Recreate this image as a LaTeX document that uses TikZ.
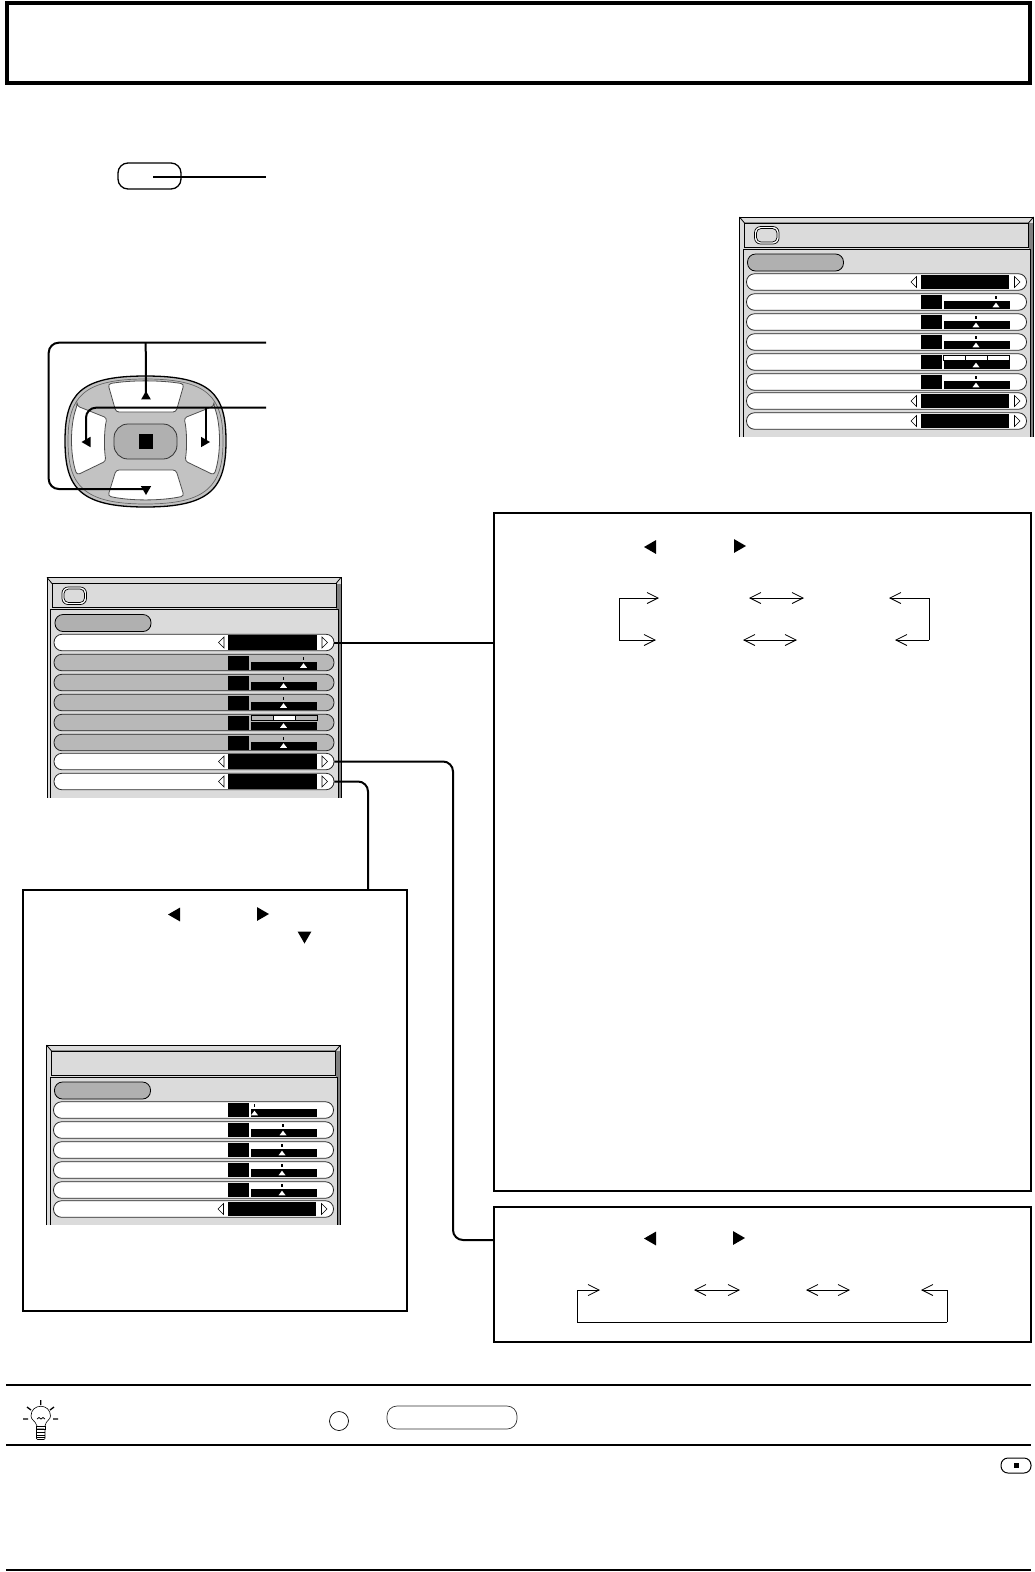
\documentclass[tikz,border=0pt]{standalone}
\usetikzlibrary{arrows.meta,shapes.geometric}

\definecolor{panelgray}{gray}{0.86}
\definecolor{rowgray}{gray}{0.72}
\definecolor{pillgray}{gray}{0.69}
\definecolor{padgray}{gray}{0.76}

% menu window, #1 is its height
\newcommand{\menuframe}[1]{
  \fill[panelgray] (0,0) rectangle (294,#1);
  \fill[black!50] (289,6) rectangle (294,32);
  \fill[black!50] (291,32) rectangle (294,#1);
  \draw[line width=.8pt] (0,#1) -- (0,0) -- (294,0) -- (294,#1);
  \draw[line width=.8pt] (3.5,#1) -- (3.5,32) -- (291,32) -- (291,#1);
  \draw[line width=.8pt] (0,0) -- (5,6) -- (289,6) -- (294,0);
  \draw[line width=.8pt, fill=panelgray] (5,6) rectangle (289,30);
  \draw[line width=1pt] (5,30) -- (289,30);
  \draw[line width=.8pt, fill=pillgray, rounded corners=8pt] (8,37) rectangle (104,54);
}
% title icon
\newcommand{\menuicon}{
  \draw[line width=.7pt, fill=white, rounded corners=6pt] (15,9.5) rectangle (39.5,27);
  \draw[line width=.7pt, fill=panelgray, rounded corners=4.5pt] (17,11.5) rectangle (37.5,25);
}
% row with a value: name, y
\newcommand{\valuerow}[2]{
  \node (#1) [menurow, fill=white] at (147,#2) {};
  \fill (181,#2-7.5) rectangle (269.5,#2+7);
  \draw[line width=.6pt] (177,#2-5.5) -- (171.5,#2) -- (177,#2+5.5) -- cycle;
  \draw[line width=.6pt] (275,#2-5.5) -- (280.5,#2) -- (275,#2+5.5) -- cycle;
}
% row with a slider: name, y, fill, mark x
\newcommand{\sliderow}[4]{
  \node (#1) [menurow, fill=#3] at (147,#2) {};
  \fill (181,#2-7) rectangle (202,#2+7);
  \fill (204,#2-.7) rectangle (270,#2+7);
  \fill (#4-.8,#2-6) rectangle (#4+.8,#2-3);
  \fill[white] (#4-3.5,#2+5.3) -- (#4,#2+.7) -- (#4+3.5,#2+5.3) -- cycle;
}
% three cells over a slider: y, outer fill, middle fill
\newcommand{\cellbar}[3]{
  \fill[#2] (204,#1-7) rectangle (270,#1-2);
  \fill[#3] (226,#1-7) rectangle (248,#1-2);
  \draw[line width=.7pt] (204,#1-7) rectangle (270,#1-2);
  \draw[line width=.7pt] (226,#1-7) -- (226,#1-2) (248,#1-7) -- (248,#1-2);
}

\begin{document}
\begin{tikzpicture}[
    x=1pt, y=-1pt,
    framebox/.style={rectangle, draw=black, line width=2pt, inner sep=0pt},
    menurow/.style={rectangle, draw=black!85, line width=.8pt, rounded corners=8pt, minimum width=280pt, minimum height=16.5pt, inner sep=0pt},
    wedge/.style={regular polygon, regular polygon sides=3, fill=black, inner sep=0pt, minimum size=#1},
    leader/.style={line width=2pt, rounded corners=10pt},
    flow/.style={line width=.8pt, >={Straight Barb[length=11pt,width=11pt]}}
]
\useasboundingbox (0,0) rectangle (1034,1572);

% Page heading
\node (heading) [framebox, line width=4pt, minimum width=1023pt, minimum height=80pt] at (518.5,42.5) {};

% Menu button
\node (menubutton) [rectangle, draw=black, line width=1.3pt, rounded corners=10pt, minimum width=63pt, minimum height=26pt, inner sep=0pt] at (149.5,176) {};
\coordinate (menuin) at (153,177);
\coordinate (menuout) at (266,177);
\draw [line width=1.8pt] (menuin) -- (menuout);

% Upper menu
\begin{scope}[shift={(739.5,217)}]
\menuframe{220}
\menuicon
\valuerow{upone}{65}
\sliderow{uptwo}{85}{white}{256.5}
\sliderow{upthree}{105}{white}{236.5}
\sliderow{upfour}{125}{white}{236.5}
\sliderow{upfive}{145}{white}{236.5}
\cellbar{145}{white}{white}
\sliderow{upsix}{165}{white}{236.5}
\valuerow{upseven}{184}
\valuerow{upeight}{204}
\end{scope}

% Control pad
\draw[line width=1.3pt, fill=padgray] (65,441) .. controls (65,394) and (80,376) .. (145.5,376) .. controls (211,376) and (226,394) .. (226,441) .. controls (226,488) and (211,507) .. (145.5,507) .. controls (80,507) and (65,488) .. (65,441) -- cycle;
\draw[line width=.7pt, black!60] (68,441) .. controls (68,397) and (83,379) .. (145.5,379) .. controls (208,379) and (223,397) .. (223,441) .. controls (223,485) and (208,504) .. (145.5,504) .. controls (83,504) and (68,485) .. (68,441) -- cycle;
\draw[line width=.8pt, draw=black!70, fill=white, rounded corners=3pt] (108,384) .. controls (130,380) and (161,380) .. (184,384) -- (176,412) -- (116,412) -- cycle;
\draw[line width=.8pt, draw=black!70, fill=white, rounded corners=3pt] (116,470) -- (176,470) -- (184,496) .. controls (161,501) and (130,501) .. (108,496) -- cycle;
\draw[line width=.8pt, draw=black!70, fill=white, rounded corners=3pt] (77,406) -- (107,418) .. controls (104,430) and (104,450) .. (106,461) -- (77,475) .. controls (70,455) and (70,425) .. (77,406) -- cycle;
\draw[line width=.8pt, draw=black!70, fill=white, rounded corners=3pt] (214,406) -- (184,418) .. controls (187,430) and (187,450) .. (185,461) -- (214,475) .. controls (221,455) and (221,425) .. (214,406) -- cycle;
\node (padstop) [rectangle, draw=black!80, line width=.8pt, fill=pillgray, rounded corners=14pt, minimum width=63pt, minimum height=35pt, inner sep=0pt] at (145.5,441.5) {};
\node (stopmark) [rectangle, fill=black, minimum width=14pt, minimum height=15pt, inner sep=0pt] at (146,441.5) {};

\node (padup) [wedge=11pt, regular polygon rotate=0] at (146,396.5) {};
\node (paddown) [wedge=12pt, regular polygon rotate=180] at (146,489) {};
\node (padleft) [wedge=12pt, regular polygon rotate=90] at (87.5,442) {};
\node (padright) [wedge=12pt, regular polygon rotate=-90] at (204,442) {};

\coordinate (updownout) at (266,342.7);
\coordinate (updownbend) at (48.7,342.7);
\coordinate (updownfork) at (145.7,342.7);
\coordinate (sideout) at (266,407.7);
\coordinate (sidebend) at (86,407.7);
\coordinate (sidefork) at (206,407.7);

\draw [leader] (updownout) -- (updownbend) |- (paddown.center);
\draw [line width=2pt] (updownfork) -- (padup.center);
\draw [leader] (sideout) -- (sidebend) -- (padleft.center -| sidebend);
\draw [line width=2pt] (sidefork) -- (sidefork |- padright.center);

% Lower menu
\begin{scope}[shift={(47,577.5)}]
\menuframe{220}
\menuicon
\valuerow{lowone}{65}
\sliderow{lowtwo}{85}{rowgray}{256.5}
\sliderow{lowthree}{105}{rowgray}{236.5}
\sliderow{lowfour}{125}{rowgray}{236.5}
\sliderow{lowfive}{145}{rowgray}{236.5}
\cellbar{145}{rowgray}{white}
\sliderow{lowsix}{165}{rowgray}{236.5}
\valuerow{lowseven}{184}
\valuerow{loweight}{204}
\end{scope}

% Boxes
\node (signalbox) [framebox, minimum width=537pt, minimum height=678pt] at (762.5,851.5) {};
\node (zonebox) [framebox, minimum width=537pt, minimum height=135pt] at (762.5,1274.5) {};
\node (advancedbox) [framebox, minimum width=384pt, minimum height=421pt] at (215,1100.5) {};

% Arrows
\coordinate (zonebend) at (453,1240);
\coordinate (zonejoin) at (493,1240);
\coordinate (advancedjoin) at (368,889);
\draw [line width=2pt] (lowone.east) -- (lowone.east -| signalbox.west);
\draw [leader] (lowseven.east) -| (zonebend) -- (zonejoin);
\draw [leader] (loweight.east) -| (advancedjoin);

% Marks in the boxes
\node (signalprev) [wedge=16pt, regular polygon rotate=90] at (652,547) {};
\node (signalnext) [wedge=16pt, regular polygon rotate=-90] at (738,546) {};
\node (zoneprev) [wedge=16pt, regular polygon rotate=90] at (652,1238.5) {};
\node (zonenext) [wedge=16pt, regular polygon rotate=-90] at (737,1238) {};
\node (advancedprev) [wedge=16pt, regular polygon rotate=90] at (176,914.5) {};
\node (advancednext) [wedge=16pt, regular polygon rotate=-90] at (261,914) {};
\node (advanceddown) [wedge=16pt, regular polygon rotate=180] at (304.5,935.5) {};

% Cycle in the large box
\coordinate (sigA) at (619,598);
\coordinate (sigB) at (659,598);
\coordinate (sigC) at (619,640);
\coordinate (sigD) at (656,640);
\coordinate (sigE) at (749,598);
\coordinate (sigF) at (804,598);
\coordinate (sigG) at (743,640);
\coordinate (sigH) at (797,640);
\coordinate (sigI) at (889,598);
\coordinate (sigJ) at (929,598);
\coordinate (sigK) at (895,640);
\coordinate (sigL) at (929,640);
\draw [flow, ->] (sigC) -- (sigA) -- (sigB);
\draw [flow, ->] (sigC) -- (sigD);
\draw [flow, <->] (sigE) -- (sigF);
\draw [flow, <->] (sigG) -- (sigH);
\draw [flow, ->] (sigL) -- (sigJ) -- (sigI);
\draw [flow, ->] (sigL) -- (sigK);

% Cycle in the small box
\coordinate (zoneA) at (577,1322);
\coordinate (zoneB) at (577,1290);
\coordinate (zoneC) at (600,1290);
\coordinate (zoneD) at (694,1290);
\coordinate (zoneE) at (740,1290);
\coordinate (zoneF) at (806,1290);
\coordinate (zoneG) at (850,1290);
\coordinate (zoneH) at (921,1290);
\coordinate (zoneI) at (947,1290);
\coordinate (zoneJ) at (947,1322);
\draw [flow, ->] (zoneJ) -- (zoneA) -- (zoneB) -- (zoneC);
\draw [flow, <->] (zoneD) -- (zoneE);
\draw [flow, <->] (zoneF) -- (zoneG);
\draw [flow, ->] (zoneJ) -- (zoneI) -- (zoneH);

% Menu inside the box
\begin{scope}[shift={(46.5,1045)}]
\menuframe{180}
\sliderow{subone}{65}{white}{208}
\sliderow{subtwo}{85}{white}{236.5}
\sliderow{subthree}{105}{white}{235.5}
\sliderow{subfour}{125}{white}{235.5}
\sliderow{subfive}{145}{white}{235.5}
\valuerow{subsix}{164}
\end{scope}

% Footer rules
\coordinate (ruleAa) at (6,1385);
\coordinate (ruleAb) at (1031,1385);
\coordinate (ruleBa) at (6,1445);
\coordinate (ruleBb) at (1031,1445);
\coordinate (ruleCa) at (6,1570);
\coordinate (ruleCb) at (1031,1570);
\draw [line width=1.2pt] (ruleAa) -- (ruleAb);
\draw [line width=2pt] (ruleBa) -- (ruleBb);
\draw [line width=1.3pt] (ruleCa) -- (ruleCb);

% Hint lamp
\draw[line width=.6pt] (37,1426) .. controls (35,1420) and (31,1420) .. (31,1416) .. controls (31,1403) and (50.5,1403) .. (50.5,1416) .. controls (50.5,1420) and (46,1420) .. (45,1426);
\draw[line width=.6pt] (36.5,1426) rectangle (45,1429);
\draw[line width=.6pt, rounded corners=1pt] (36.5,1429) rectangle (45,1439.5);
\draw[line width=.5pt] (36.5,1432) -- (45,1432) (36.5,1435) -- (45,1435) (36.5,1437.5) -- (45,1437.5);
\draw[line width=.8pt] (37,1419) -- (39,1417.5) -- (41,1419) -- (43,1417.5) -- (45,1419);
\draw[line width=1.3pt] (40.7,1400) -- (40.7,1405) (27,1407) -- (31,1410) (54,1407) -- (50,1410) (23,1419) -- (28,1419) (53,1419) -- (58,1419);

% Hint keys
\node (hintround) [circle, draw=black, line width=.7pt, minimum size=19pt, inner sep=0pt] at (339,1421) {};
\node (hintpill) [rectangle, draw=black!80, line width=.7pt, rounded corners=10pt, minimum width=130pt, minimum height=23pt, inner sep=0pt] at (452,1417.5) {};

% Stop key at the foot
\node (footkey) [rectangle, draw=black, line width=1pt, rounded corners=7pt, minimum width=30pt, minimum height=15pt, inner sep=0pt] at (1016,1465.5) {};
\node (footstop) [rectangle, fill=black, minimum size=5pt, inner sep=0pt] at (1016,1465.5) {};

\end{tikzpicture}
\end{document}
